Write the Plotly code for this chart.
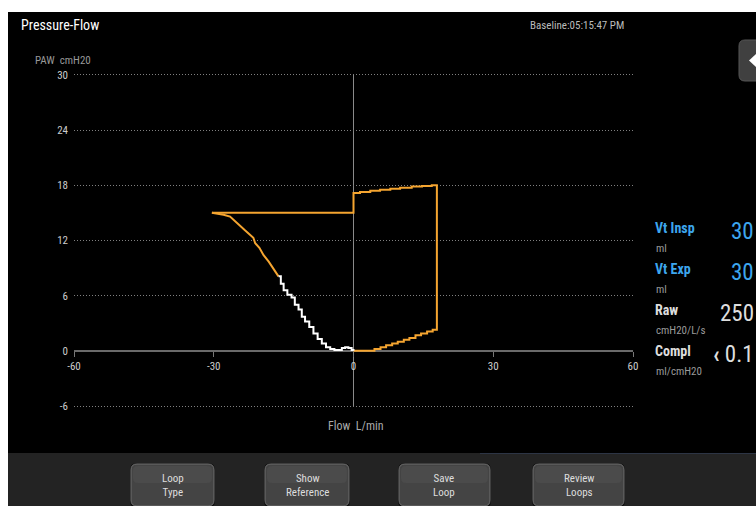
import plotly.graph_objects as go

W, H = 756, 506
FONT = "Liberation Sans Narrow, Roboto Condensed, Roboto, sans-serif"

ORANGE = "#F5A530"
BLUE = "#3DA6EE"

# Loop data (Flow L/min, PAW cmH20)
loop_flow = [0, 3.2, 4.5, 5.8, 7.0, 8.3, 9.5, 10.8, 12.0, 13.3, 14.5, 15.8, 17.0, 17.9,
             17.9, 16.8, 14.7, 12.5, 10.0, 7.9, 5.7, 3.6, 1.4, 0, 0, -30.4]
loop_paw = [0, 0, 0.2, 0.4, 0.6, 0.8, 1.0, 1.2, 1.4, 1.7, 1.9, 2.1, 2.3, 2.5,
            18.0, 17.93, 17.86, 17.72, 17.61, 17.5, 17.39, 17.28, 17.17, 17.17, 15.0, 15.0]

exp_flow_a = [-30.4, -27.9, -26.5, -25.5, -24.7, -23.3, -21.5, -21.1, -20.2, -19.3, -18.2, -17.2, -16.1]
exp_paw_a = [15.0, 14.8, 14.6, 14.1, 13.7, 13.1, 12.3, 11.7, 11.2, 10.4, 9.7, 9.0, 8.1]

exp_flow_b = [-16.1, -15.6, -15.0, -14.2, -13.3, -12.6, -11.8, -11.1, -10.4, -9.5, -8.6, -7.7, -6.8,
              -5.9, -5.0, -4.1, -3.2, -2.5, -1.8, -1.1, -0.4, 0]
exp_paw_b = [8.1, 7.3, 6.6, 6.1, 5.8, 5.0, 4.5, 3.7, 3.2, 2.6, 1.9, 1.3, 0.8,
             0.4, 0.2, 0.1, 0.1, 0.3, 0.4, 0.3, 0.1, 0]

x_ticks = [-60, -30, 0, 30, 60]
y_ticks = [-6, 0, 6, 12, 18, 24, 30]

buttons = ["Loop<br>Type", "Show<br>Reference", "Save<br>Loop", "Review<br>Loops"]
button_x = [(131, 214), (265, 349), (399, 490), (533, 624)]

params = [("Vt Insp", "ml", "30", BLUE), ("Vt Exp", "ml", "30", BLUE),
          ("Raw", "cmH20/L/s", "250", "#DDDDDD"),
          ("Compl", "ml/cmH20", "<b>‹</b> 0.1", "#DDDDDD")]
param_y = [228, 269, 310, 351]


def px(x):
    return x / W


def py(y):
    return 1 - y / H


def rrect(x0, y0, x1, y1, r):
    # rounded rectangle path in paper coords, input in pixels (top-left origin)
    pts = [
        ("M", x0 + r, y0), ("L", x1 - r, y0), ("Q", x1, y0, x1, y0 + r),
        ("L", x1, y1 - r), ("Q", x1, y1, x1 - r, y1), ("L", x0 + r, y1),
        ("Q", x0, y1, x0, y1 - r), ("L", x0, y0 + r), ("Q", x0, y0, x0 + r, y0),
    ]
    out = []
    for p in pts:
        coords = p[1:]
        s = " ".join(f"{px(coords[i]):.5f},{py(coords[i + 1]):.5f}" for i in range(0, len(coords), 2))
        out.append(f"{p[0]} {s}")
    return " ".join(out) + " Z"


fig = go.Figure()

fig.add_trace(go.Scatter(x=loop_flow, y=loop_paw, mode="lines", line_shape="hv",
                         line={"color": ORANGE, "width": 2}, hoverinfo="skip"))
fig.add_trace(go.Scatter(x=exp_flow_a, y=exp_paw_a, mode="lines",
                         line={"color": ORANGE, "width": 2}, hoverinfo="skip"))
fig.add_trace(go.Scatter(x=exp_flow_b, y=exp_paw_b, mode="lines", line_shape="hv",
                         line={"color": "white", "width": 2}, hoverinfo="skip"))

shapes = [
    # black screen + bottom bar
    {"type": "rect", "xref": "paper", "yref": "paper", "x0": px(8), "x1": 1, "y0": py(453), "y1": py(12),
     "fillcolor": "black", "line": {"width": 0}, "layer": "below"},
    {"type": "rect", "xref": "paper", "yref": "paper", "x0": px(8), "x1": 1, "y0": 0, "y1": py(453),
     "fillcolor": "#232323", "line": {"width": 0}, "layer": "below"},
    {"type": "line", "xref": "paper", "yref": "paper", "x0": px(480), "x1": 1, "y0": py(453.5), "y1": py(453.5),
     "line": {"color": "#2C3444", "width": 1}},
    # vertical zero-flow line
    {"type": "line", "xref": "x", "yref": "y", "x0": 0, "x1": 0, "y0": y_ticks[0], "y1": y_ticks[-1],
     "line": {"color": "#8A8A8A", "width": 1}, "layer": "below"},
    # top-right side tab
    {"type": "path", "xref": "paper", "yref": "paper", "path": rrect(739, 40, 775, 81, 6),
     "fillcolor": "#404040", "line": {"color": "#555555", "width": 1}},
    {"type": "path", "xref": "paper", "yref": "paper",
     "path": f"M {px(756):.5f},{py(54):.5f} L {px(749):.5f},{py(60.5):.5f} L {px(756):.5f},{py(67):.5f} Z",
     "fillcolor": "white", "line": {"width": 0}},
]

annotations = [
    {"text": "Pressure-Flow", "x": px(19), "y": py(25), "xanchor": "left", "yanchor": "middle",
     "font": {"size": 14, "color": "white"}},
    {"text": "Baseline:05:15:47 PM", "x": px(528), "y": py(25), "xanchor": "left", "yanchor": "middle",
     "font": {"size": 11, "color": "#BBBBBB"}},
    {"text": "PAW  cmH20", "x": px(33), "y": py(61), "xanchor": "left", "yanchor": "middle",
     "font": {"size": 11, "color": "#999999"}},
    {"text": "Flow  L/min", "x": px(356), "y": py(426), "xanchor": "center", "yanchor": "middle",
     "font": {"size": 12, "color": "#AAAAAA"}},
]

for (label, unit, value, color), yy in zip(params, param_y):
    annotations.append({"text": f"<b>{label}</b>", "x": px(653), "y": py(yy), "xanchor": "left",
                        "yanchor": "middle", "font": {"size": 14, "color": color}})
    annotations.append({"text": unit, "x": px(654), "y": py(yy + 20), "xanchor": "left",
                        "yanchor": "middle", "font": {"size": 11, "color": "#9A9A9A"}})
    annotations.append({"text": value, "x": 1, "y": py(yy + 3), "xanchor": "right",
                        "yanchor": "middle", "font": {"size": 23, "color": color}})

for label, (x0, x1) in zip(buttons, button_x):
    shapes.append({"type": "path", "xref": "paper", "yref": "paper", "path": rrect(x0 - 1, 463, x1 + 1, 508, 7),
                   "fillcolor": "#111111", "line": {"width": 0}})
    shapes.append({"type": "path", "xref": "paper", "yref": "paper", "path": rrect(x0, 464, x1, 506, 6),
                   "fillcolor": "#444444", "line": {"color": "#6E6E6E", "width": 1}})
    shapes.append({"type": "path", "xref": "paper", "yref": "paper", "path": rrect(x0 + 2, 466, x1 - 2, 483, 5),
                   "fillcolor": "#4B4B4B", "line": {"width": 0}})
    annotations.append({"text": label, "x": px((x0 + x1) / 2), "y": py(485), "xanchor": "center",
                        "yanchor": "middle", "font": {"size": 11, "color": "#DDDDDD"}})

for a in annotations:
    a.update({"xref": "paper", "yref": "paper", "showarrow": False})
    a["font"]["family"] = FONT

fig.update_layout(
    width=W,
    height=H,
    margin={"l": 0, "r": 0, "t": 0, "b": 0, "pad": 0, "autoexpand": False},
    paper_bgcolor="white",
    plot_bgcolor="rgba(0,0,0,0)",
    showlegend=False,
    font={"family": FONT, "color": "#CCCCCC", "size": 11},
    xaxis={
        "range": [-60, 60],
        "domain": [px(74), px(633)],
        "anchor": "free",
        "position": py(351),
        "tickvals": x_ticks,
        "ticktext": [str(v) for v in x_ticks],
        "ticks": "outside",
        "ticklen": 5,
        "tickcolor": "#777777",
        "tickfont": {"size": 11, "color": "#CCCCCC", "family": FONT},
        "showgrid": False,
        "showline": False,
        "zeroline": False,
        "automargin": False,
        "fixedrange": True,
    },
    yaxis={
        "range": [-8.6, 32.7],
        "domain": [py(430), py(50)],
        "tickvals": y_ticks,
        "ticktext": [str(v) for v in y_ticks],
        "tickfont": {"size": 11, "color": "#CCCCCC", "family": FONT},
        "ticklabelstandoff": 5,
        "showgrid": True,
        "gridcolor": "#808080",
        "griddash": "1px,2px",
        "gridwidth": 1,
        "zeroline": True,
        "zerolinecolor": "#6A6A6A",
        "zerolinewidth": 2,
        "showline": False,
        "ticks": "",
        "automargin": False,
        "fixedrange": True,
    },
    shapes=shapes,
    annotations=annotations,
)

fig.write_html(
    "out.html",
    config={"displayModeBar": False},
    post_script="document.body.style.margin='0';document.body.style.overflow='hidden';",
)
